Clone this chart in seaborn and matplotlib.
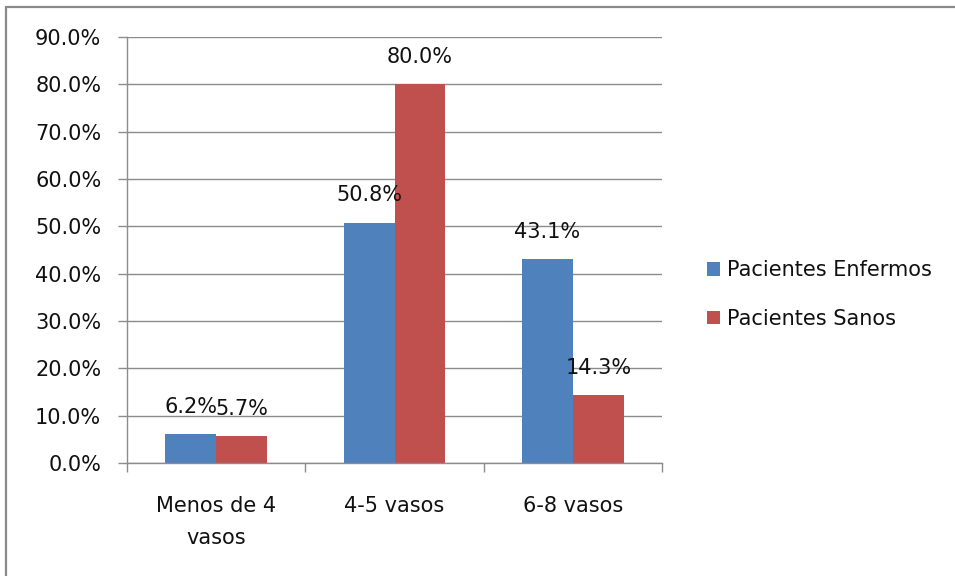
import matplotlib
matplotlib.use("Agg")
import matplotlib.pyplot as plt
from matplotlib.lines import Line2D
from matplotlib.patches import Patch
import seaborn as sns
import pandas as pd

categories = ["Menos de 4\nvasos", "4-5 vasos", "6-8 vasos"]
series_names = ["Pacientes Enfermos", "Pacientes Sanos"]
enfermos = [6.2, 50.8, 43.1]
sanos = [5.7, 80.0, 14.3]
y_ticks = [0, 10, 20, 30, 40, 50, 60, 70, 80, 90]

colors = ["#4F81BD", "#C0504D"]
grid_color = "#8c8c8c"
text_color = "#111111"

sns.set_theme(style="white")
plt.rcParams["font.family"] = ["DejaVu Sans"]

df = pd.DataFrame({
    "categoria": categories * 2,
    "serie": [series_names[0]] * 3 + [series_names[1]] * 3,
    "valor": enfermos + sanos,
})

W, H = 955, 576
fig = plt.figure(figsize=(W / 100, H / 100), dpi=100)
ax = fig.add_axes([127 / W, 1 - 463 / H, (662 - 127) / W, (463 - 37) / H])

sns.barplot(data=df, x="categoria", y="valor", hue="serie", order=categories,
            hue_order=series_names, palette=colors, width=0.5714, gap=0,
            saturation=1, edgecolor="none", linewidth=0, legend=False, ax=ax)

ax.set_xlim(-0.5, 2.5)
ax.set_ylim(0, 90)
ax.set_yticks(y_ticks)
ax.set_yticklabels([f"{v:.1f}%" for v in y_ticks])
ax.set_xlabel("")
ax.set_ylabel("")

ax.yaxis.grid(True, color=grid_color, linewidth=1.0)
ax.set_axisbelow(True)
for side in ("top", "right"):
    ax.spines[side].set_visible(False)
for side in ("left", "bottom"):
    ax.spines[side].set_color(grid_color)
    ax.spines[side].set_linewidth(1.0)

ax.tick_params(axis="y", which="major", direction="out", length=6.5, width=1.0,
               color=grid_color, pad=12, labelsize=15, labelcolor=text_color, left=True)
ax.set_xticks([-0.5, 0.5, 1.5, 2.5], minor=True)
ax.tick_params(axis="x", which="minor", direction="out", length=6.5, width=1.0,
               color=grid_color, bottom=True)
ax.tick_params(axis="x", which="major", length=0, pad=24, labelsize=15,
               labelcolor=text_color)
for lbl in ax.get_xticklabels():
    lbl.set_linespacing(1.75)
    lbl.set_verticalalignment("top")

# value labels above each bar
for container, vals in zip(ax.containers, [enfermos, sanos]):
    for bar, v in zip(container, vals):
        ax.annotate(f"{v:.1f}%", (bar.get_x() + bar.get_width() / 2, bar.get_height()),
                    xytext=(0, 19.5), textcoords="offset points", ha="center",
                    va="center", fontsize=15, color=text_color, annotation_clip=False)

handles = [Patch(facecolor=c, edgecolor="none") for c in colors]
fig.legend(handles, series_names, loc="center left",
           bbox_to_anchor=(707 / W, 1 - 294.5 / H), frameon=False, fontsize=15,
           handlelength=0.6, handleheight=0.6, handletextpad=0.35,
           labelspacing=1.35, borderpad=0, borderaxespad=0, labelcolor=text_color)

# chart frame (top and left edges)
fig.add_artist(Line2D([6 / W, 1.0], [1 - 6.5 / H, 1 - 6.5 / H], transform=fig.transFigure,
                      color="#8a8a8a", linewidth=1.6))
fig.add_artist(Line2D([6 / W, 6 / W], [0.0, 1 - 6.5 / H], transform=fig.transFigure,
                      color="#8a8a8a", linewidth=1.6))

fig.savefig("out.png", dpi=100, facecolor="white")
